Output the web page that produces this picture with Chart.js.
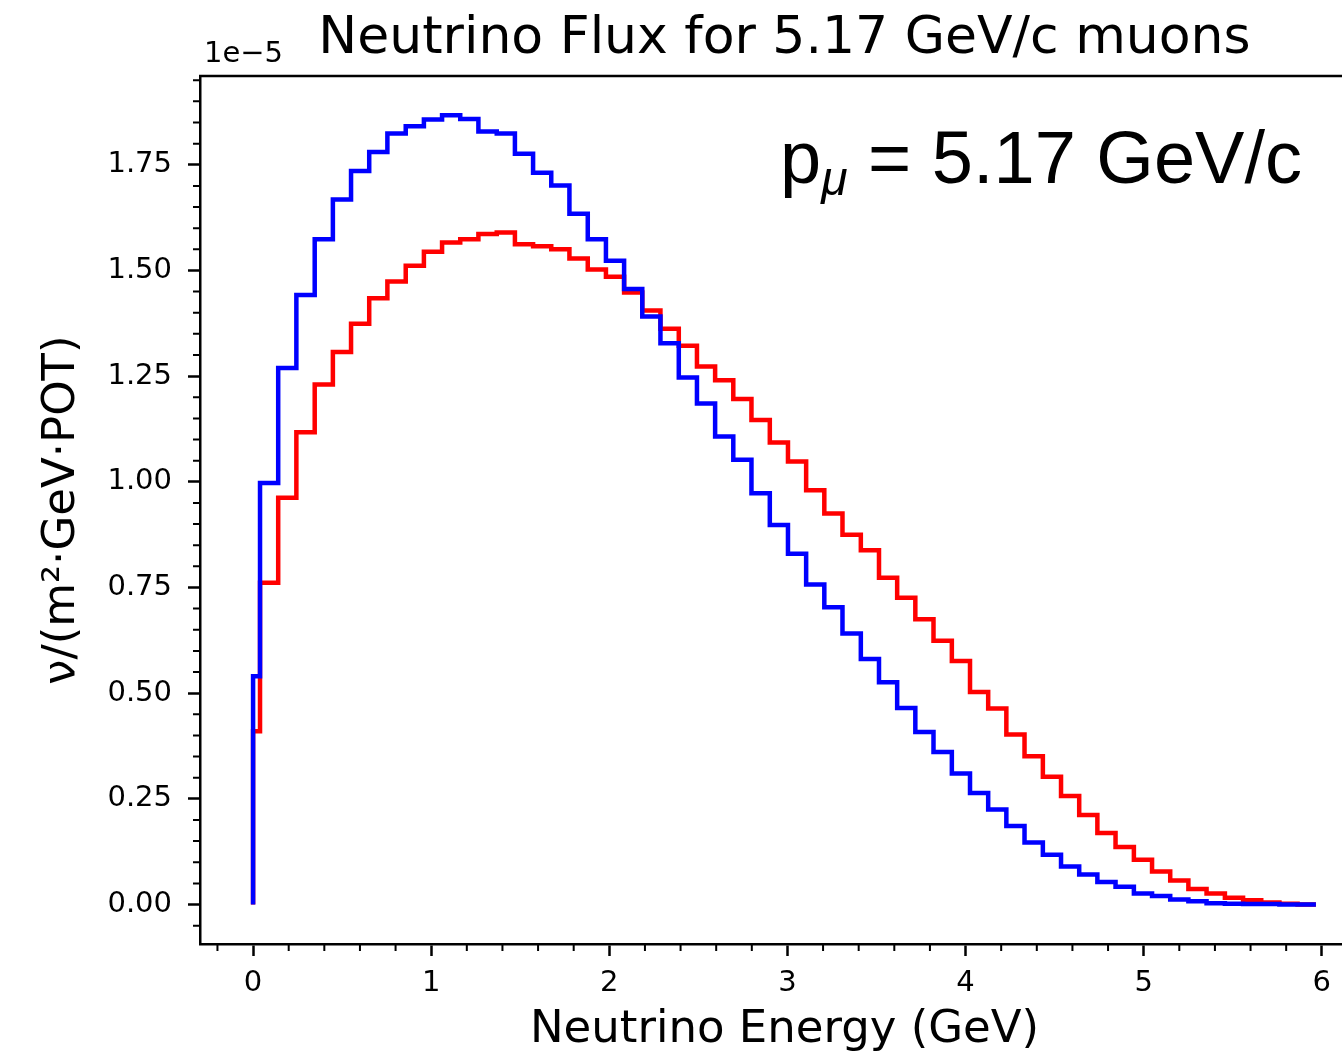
<!DOCTYPE html>
<html>
<head>
<meta charset="utf-8">
<title>Neutrino Flux for 5.17 GeV/c muons</title>
<script src="https://cdn.jsdelivr.net/npm/chart.js@4.4.1/dist/chart.umd.min.js"></script>
<style>
    html, body { margin: 0; padding: 0; overflow: hidden; background: #fff; }
    #wrap { width: 1400px; height: 1057px; }
</style>
</head>
<body>
<div id="wrap"><canvas id="fluxChart" width="1400" height="1057"></canvas></div>
<script>
// bin edges in GeV (first bin is narrow, rest ~0.102 GeV wide)
const binEdges = [0, 0.039, 0.141, 0.243, 0.346, 0.448, 0.550, 0.652, 0.754, 0.857, 0.959,
    1.061, 1.163, 1.265, 1.368, 1.470, 1.572, 1.674, 1.776, 1.879, 1.981,
    2.083, 2.185, 2.287, 2.390, 2.492, 2.594, 2.696, 2.798, 2.901, 3.003,
    3.105, 3.207, 3.309, 3.412, 3.514, 3.616, 3.718, 3.820, 3.923, 4.025,
    4.127, 4.229, 4.331, 4.434, 4.536, 4.638, 4.740, 4.842, 4.945, 5.047,
    5.149, 5.251, 5.353, 5.456, 5.558, 5.660, 5.762, 5.864, 5.967];

// flux per bin, in units of 1e-5 nu/(m^2 GeV POT)
const blueFlux = [0.54, 0.997, 1.269, 1.442, 1.574, 1.668, 1.735, 1.780, 1.824, 1.841,
    1.857, 1.867, 1.858, 1.829, 1.824, 1.776, 1.731, 1.701, 1.634, 1.574,
    1.523, 1.456, 1.391, 1.328, 1.247, 1.185, 1.107, 1.052, 0.973, 0.898,
    0.830, 0.757, 0.703, 0.641, 0.581, 0.526, 0.465, 0.408, 0.361, 0.310,
    0.264, 0.225, 0.186, 0.147, 0.118, 0.090, 0.071, 0.053, 0.042, 0.026,
    0.020, 0.012, 0.008, 0.003, 0.002, 0.001, 0.001, 0.000, 0.000];

const redFlux = [0.41, 0.761, 0.962, 1.117, 1.230, 1.307, 1.374, 1.434, 1.474, 1.511,
    1.544, 1.566, 1.574, 1.586, 1.590, 1.562, 1.557, 1.550, 1.528, 1.502,
    1.485, 1.448, 1.405, 1.362, 1.322, 1.273, 1.240, 1.196, 1.146, 1.093,
    1.048, 0.980, 0.925, 0.875, 0.838, 0.773, 0.726, 0.675, 0.624, 0.576,
    0.503, 0.464, 0.402, 0.351, 0.302, 0.257, 0.212, 0.169, 0.136, 0.106,
    0.078, 0.057, 0.037, 0.026, 0.016, 0.010, 0.005, 0.002, 0.000];

const xTicks = [0, 1, 2, 3, 4, 5, 6];
const yTicks = [0, 0.25, 0.5, 0.75, 1.0, 1.25, 1.5, 1.75];
const yOffsetLabel = "1e\u22125";

const titleText = "Neutrino Flux for 5.17 GeV/c muons";
const xTitle = "Neutrino Energy (GeV)";
const yTitle = "\u03BD/(m\u00B2\u00B7GeV\u00B7POT)";

const xMin = -0.298, xMax = 6.265;
const yMin = -0.0934, yMax = 1.96;

const dejavu = "'DejaVu Sans', sans-serif";

// turn bin edges + contents into points for a stepped line
function stepPoints(values) {
    const pts = [{ x: binEdges[0], y: 0 }];
    values.forEach((v, i) => pts.push({ x: binEdges[i + 1], y: v }));
    return pts;
}

const framePlugin = {
    id: "frame",
    afterDraw(chart) {
        const ctx = chart.ctx;
        const a = chart.chartArea;
        const xs = chart.scales.x;
        const ys = chart.scales.y;
        ctx.save();
        ctx.strokeStyle = "#000";
        ctx.lineCap = "butt";

        // top and right spines
        ctx.lineWidth = 2.5;
        ctx.beginPath();
        ctx.moveTo(a.left - 1, a.top);
        ctx.lineTo(a.right, a.top);
        ctx.lineTo(a.right, a.bottom);
        ctx.stroke();

        // minor ticks
        ctx.lineWidth = 2;
        ctx.beginPath();
        for (let i = -1; i <= 31; i++) {
            const v = i * 0.2;
            if (i % 5 === 0 || v < xMin || v > xMax) continue;
            const px = xs.getPixelForValue(v);
            ctx.moveTo(px, a.bottom);
            ctx.lineTo(px, a.bottom + 7);
        }
        for (let i = -1; i <= 39; i++) {
            const v = i * 0.05;
            if (i % 5 === 0 || v < yMin || v > yMax) continue;
            const py = ys.getPixelForValue(v);
            ctx.moveTo(a.left, py);
            ctx.lineTo(a.left - 7, py);
        }
        ctx.stroke();

        // title
        ctx.fillStyle = "#000";
        ctx.textBaseline = "alphabetic";
        ctx.textAlign = "center";
        ctx.font = "52px " + dejavu;
        ctx.fillText(titleText, (a.left + a.right) / 2, 53);

        // offset text for the y axis
        ctx.textAlign = "left";
        ctx.font = "29px " + dejavu;
        ctx.fillText(yOffsetLabel, a.left + 4, 62);

        // momentum annotation
        let x = 780;
        const base = 183;
        ctx.font = "74px 'Liberation Sans', Arial, sans-serif";
        ctx.fillText("p", x, base);
        x += ctx.measureText("p").width;
        ctx.font = "italic 48px 'Liberation Sans', Arial, sans-serif";
        ctx.fillText("\u03BC", x, base + 12);
        x += ctx.measureText("\u03BC").width;
        ctx.font = "74px 'Liberation Sans', Arial, sans-serif";
        ctx.fillText(" = 5.17 GeV/c", x, base);

        ctx.restore();
    }
};

const ctx = document.getElementById("fluxChart");

new Chart(ctx, {
    type: "line",
    data: {
        datasets: [{
            label: "blue",
            data: stepPoints(blueFlux),
            borderColor: "#0000ff",
            borderWidth: 4.5,
            stepped: "after",
            pointRadius: 0,
            fill: false,
            order: 0
        }, {
            label: "red",
            data: stepPoints(redFlux),
            borderColor: "#ff0000",
            borderWidth: 4.5,
            stepped: "after",
            pointRadius: 0,
            fill: false,
            order: 1
        }]
    },
    options: {
        responsive: false,
        animation: false,
        layout: { padding: { top: 76, right: 31, left: 0, bottom: 0 } },
        plugins: {
            legend: { display: false },
            tooltip: { enabled: false },
            title: { display: false }
        },
        scales: {
            x: {
                type: "linear",
                min: xMin,
                max: xMax,
                afterBuildTicks: (s) => { s.ticks = xTicks.map(v => ({ value: v })); },
                afterFit: (s) => { s.height = 113; },
                ticks: {
                    font: { family: dejavu, size: 29 },
                    color: "#000",
                    padding: 10,
                    maxRotation: 0,
                    autoSkip: false,
                    callback: (v) => String(v)
                },
                grid: { drawOnChartArea: false, drawTicks: true, tickLength: 12, tickWidth: 2.5, tickColor: "#000" },
                border: { display: true, color: "#000", width: 2.5 },
                title: {
                    display: true,
                    text: xTitle,
                    color: "#000",
                    font: { family: dejavu, size: 45 },
                    padding: { top: 0, bottom: 0 }
                }
            },
            y: {
                type: "linear",
                min: yMin,
                max: yMax,
                afterBuildTicks: (s) => { s.ticks = yTicks.map(v => ({ value: v })); },
                afterFit: (s) => { s.width = 200; },
                ticks: {
                    font: { family: dejavu, size: 29 },
                    color: "#000",
                    padding: 16,
                    autoSkip: false,
                    callback: (v) => v.toFixed(2)
                },
                grid: { drawOnChartArea: false, drawTicks: true, tickLength: 12, tickWidth: 2.5, tickColor: "#000" },
                border: { display: true, color: "#000", width: 2.5 },
                title: {
                    display: true,
                    text: yTitle,
                    color: "#000",
                    font: { family: dejavu, size: 45 },
                    padding: { top: 35, bottom: 0 }
                }
            }
        }
    },
    plugins: [framePlugin]
});
</script>
</body>
</html>
